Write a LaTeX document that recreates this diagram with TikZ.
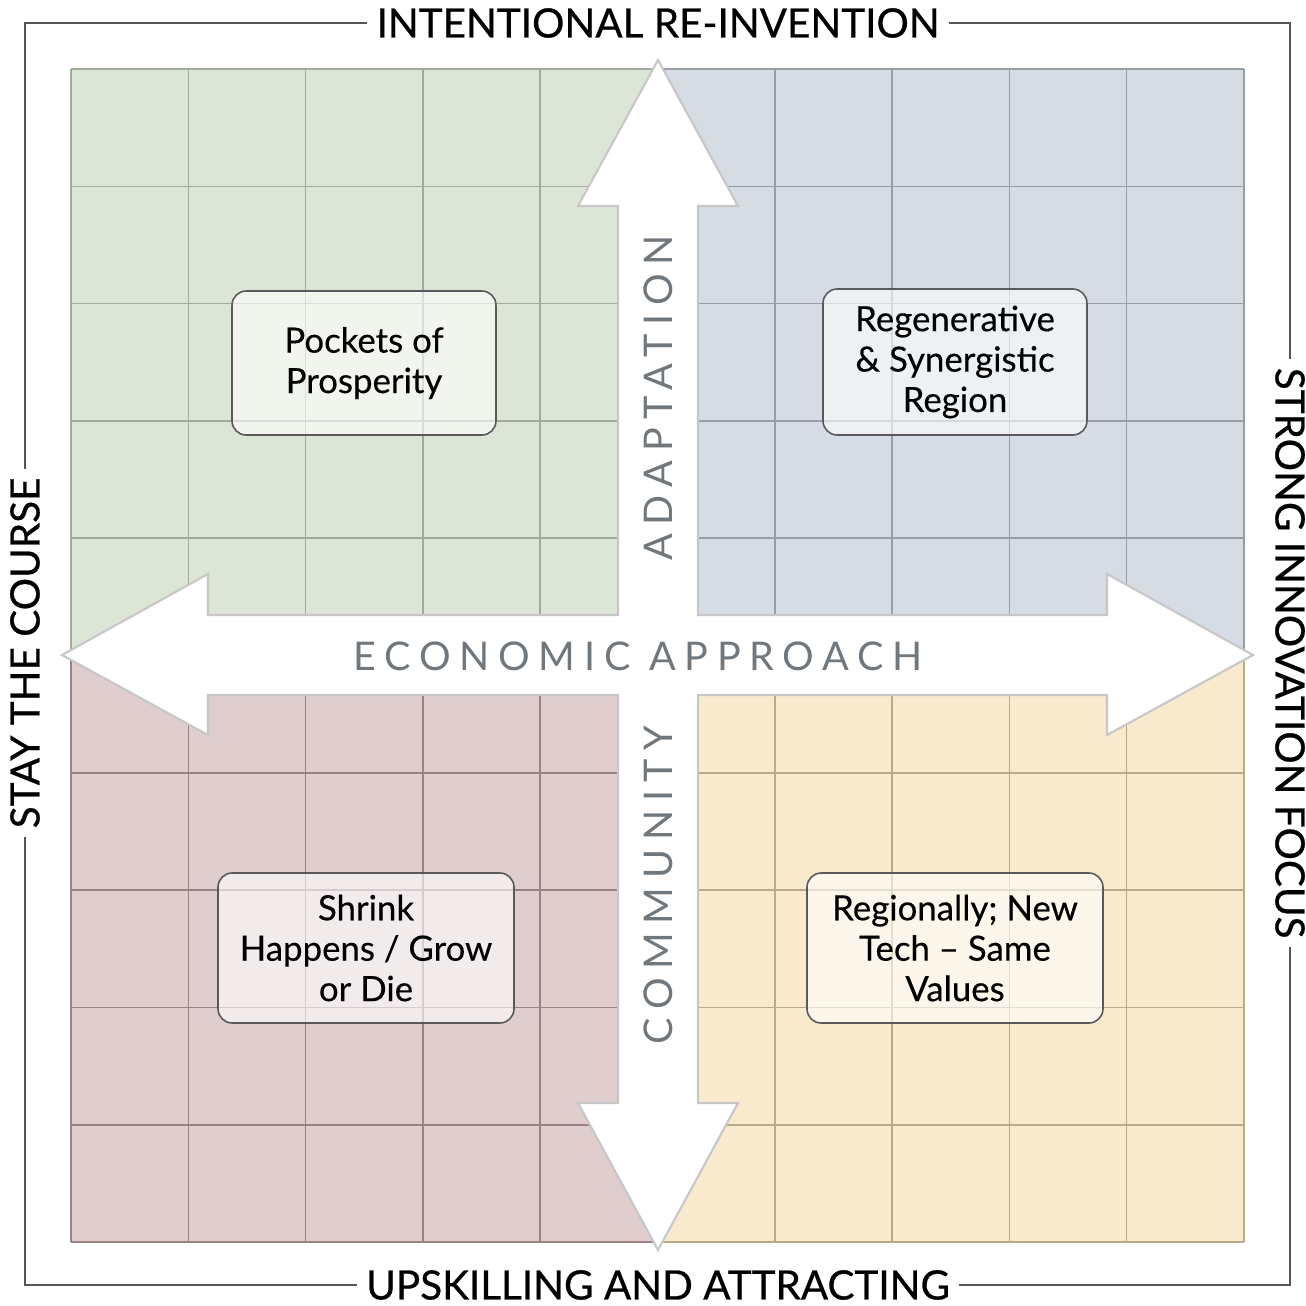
\documentclass[tikz,border=0pt]{standalone}
\usepackage{fontspec}
\setmainfont{Lato}
\usetikzlibrary{positioning}

\definecolor{greenfill}{RGB}{220,230,214}
\definecolor{greenline}{RGB}{160,171,155}
\definecolor{bluefill}{RGB}{213,220,228}
\definecolor{blueline}{RGB}{150,158,168}
\definecolor{redfill}{RGB}{224,205,206}
\definecolor{redline}{RGB}{152,130,132}
\definecolor{yellowfill}{RGB}{249,234,206}
\definecolor{yellowline}{RGB}{186,171,136}
\definecolor{axisgray}{RGB}{112,120,126}
\definecolor{framegray}{RGB}{85,85,85}

\def\cell{117.3}
\def\gridx{71}
\def\gridy{69}

\begin{document}
\begin{tikzpicture}[x=0.02cm,y=-0.02cm]
    \tikzstyle{frame}=[draw=framegray, line width=1.3pt]
    \tikzstyle{edge label}=[inner sep=5pt,
        font=\fontsize{23}{26}\selectfont\addfontfeature{FakeBold=0.6}]
    \tikzstyle{axis label}=[text=axisgray, inner sep=0pt,
        font=\fontsize{22.5}{26}\selectfont\addfontfeature{LetterSpace=22}]
    \tikzstyle{scenario}=[draw=black!65, line width=0.9pt, rounded corners=8pt,
        fill=white, fill opacity=0.6, text opacity=1, align=center,
        font=\fontsize{19.8}{23}\selectfont\addfontfeature{FakeBold=0.3}]
    \tikzstyle{arrowcross}=[fill=white, draw=black!22, line width=1.2pt, line join=miter]

    \useasboundingbox (0,0) rectangle (1306,1306);

    % Draw the four quadrants with their grids
    \foreach \qx / \qy / \col in {0/0/green, 1/0/blue, 0/1/red, 1/1/yellow} {
        \fill[\col fill] (\gridx+\qx*5*\cell,\gridy+\qy*5*\cell)
            rectangle ++(5*\cell,5*\cell);
        \foreach \i in {0,...,5} {
            \draw[\col line, line width=0.9pt]
                (\gridx+\qx*5*\cell+\i*\cell,\gridy+\qy*5*\cell)
                -- ++(0,5*\cell);
            \draw[\col line, line width=0.9pt]
                (\gridx+\qx*5*\cell,\gridy+\qy*5*\cell+\i*\cell)
                -- ++(5*\cell,0);
        }
    }

    % Draw the double arrows
    \draw[arrowcross] (658,60) -- (738,206) -- (698,206) -- (698,615)
        -- (1107,615) -- (1107,574) -- (1253,655) -- (1107,735) -- (1107,695)
        -- (698,695) -- (698,1103) -- (738,1103) -- (658,1250) -- (578,1103)
        -- (618,1103) -- (618,695) -- (208,695) -- (208,735) -- (62,655)
        -- (208,574) -- (208,615) -- (618,615) -- (618,206) -- (578,206) -- cycle;

    % Axis labels
    \node[axis label, rotate=90] (adapt) at (658,398) {ADAPTATION};
    \node[axis label, rotate=90] (comm) at (658,885) {COMMUNITY};
    \node[axis label] (econ) at (638,656) {ECONOMIC APPROACH};

    % Scenario boxes
    \node[scenario, minimum width=5.28cm, minimum height=2.88cm] (pockets) at (364,363)
        {Pockets of\\Prosperity};
    \node[scenario, minimum width=5.28cm, minimum height=2.92cm] (regen) at (955,362)
        {Regenerative\\\& Synergistic\\Region};
    \node[scenario, minimum width=5.92cm, minimum height=3.0cm] (shrink) at (366,948)
        {Shrink\\Happens / Grow\\or Die};
    \node[scenario, minimum width=5.92cm, minimum height=3.0cm] (newtech) at (955,948)
        {Regionally; New\\Tech -- Same\\Values};

    % Annotate the outer frame
    \node[edge label] (top) at (658,23) {INTENTIONAL RE-INVENTION};
    \node[edge label] (bottom) at (658,1285) {UPSKILLING AND ATTRACTING};
    \node[edge label, rotate=90] (left) at (25,653) {STAY THE COURSE};
    \node[edge label, rotate=-90] (right) at (1290,653) {STRONG INNOVATION FOCUS};

    \draw[frame] (top.west) -| (left.east);
    \draw[frame] (top.east) -| (right.west);
    \draw[frame] (bottom.west) -| (left.west);
    \draw[frame] (bottom.east) -| (right.east);
\end{tikzpicture}
\end{document}
